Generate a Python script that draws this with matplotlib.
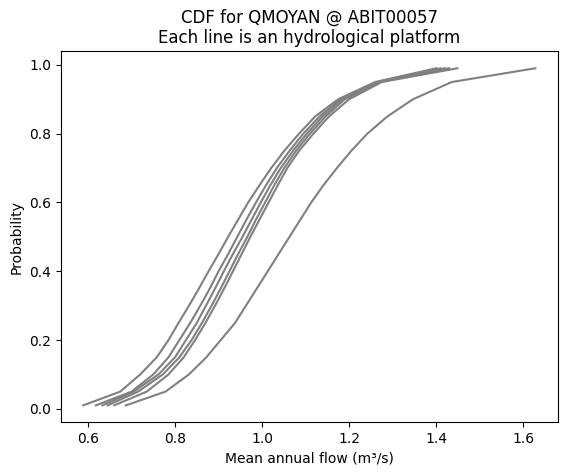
import numpy as np
import matplotlib.pyplot as plt

prob = [0.01, 0.05, 0.1, 0.15, 0.2, 0.25, 0.3, 0.35, 0.4, 0.45, 0.5,
        0.55, 0.6, 0.65, 0.7, 0.75, 0.8, 0.85, 0.9, 0.95, 0.99]

# quantiles of mean annual flow, one list per platform
flow_a = [0.589, 0.674, 0.72, 0.758, 0.785, 0.808, 0.832, 0.855, 0.877, 0.90, 0.922,
          0.945, 0.968, 0.994, 1.021, 1.051, 1.085, 1.122, 1.175, 1.26, 1.40]
flow_b = [0.618, 0.70, 0.75, 0.785, 0.81, 0.835, 0.858, 0.88, 0.90, 0.922, 0.943,
          0.964, 0.986, 1.009, 1.034, 1.063, 1.095, 1.132, 1.18, 1.265, 1.41]
flow_c = [0.633, 0.705, 0.762, 0.80, 0.825, 0.85, 0.871, 0.892, 0.912, 0.933, 0.955,
          0.976, 0.997, 1.019, 1.043, 1.071, 1.103, 1.139, 1.185, 1.268, 1.42]
flow_d = [0.645, 0.715, 0.772, 0.81, 0.838, 0.862, 0.884, 0.905, 0.925, 0.945, 0.966,
          0.986, 1.007, 1.028, 1.051, 1.078, 1.11, 1.146, 1.19, 1.27, 1.43]
flow_e = [0.660, 0.735, 0.785, 0.82, 0.846, 0.87, 0.892, 0.913, 0.933, 0.953, 0.973,
          0.994, 1.015, 1.036, 1.058, 1.085, 1.118, 1.154, 1.20, 1.275, 1.449]
flow_f = [0.687, 0.778, 0.832, 0.872, 0.905, 0.938, 0.963, 0.988, 1.013, 1.038, 1.063,
          1.088, 1.113, 1.141, 1.172, 1.205, 1.242, 1.288, 1.347, 1.436, 1.628]

platforms = [flow_a, flow_b, flow_c, flow_d, flow_e, flow_f]

fig, ax = plt.subplots(figsize=(5.67, 4.76), dpi=100)
fig.subplots_adjust(left=0.107, right=0.984, top=0.892, bottom=0.113)

for flow in platforms:
    ax.plot(flow, prob, color="grey")

ax.set_title("CDF for QMOYAN @ ABIT00057\nEach line is an hydrological platform")
ax.set_xlabel("Mean annual flow (m³/s)")
ax.set_ylabel("Probability")

fig.savefig("out.png")
